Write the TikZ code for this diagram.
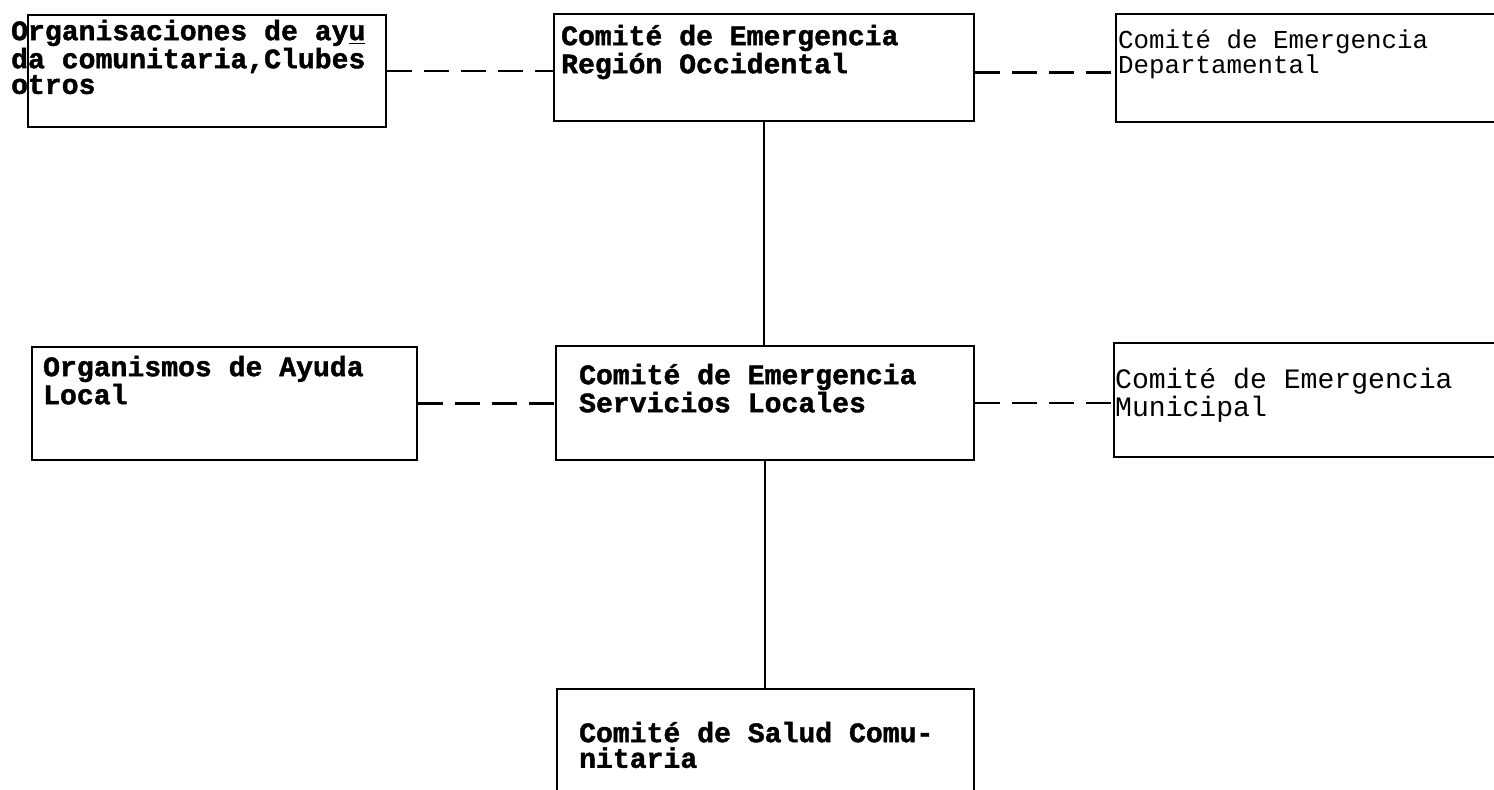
\documentclass[tikz,border=0pt]{standalone}
\usepackage{fontspec}
\newfontfamily\typefont{Liberation Mono}[BoldFeatures={FakeBold=1.5}]
\usetikzlibrary{positioning}
\tikzset{
  box/.style={rectangle, draw, line width=1.3pt, anchor=north west, align=left,
    inner ysep=0pt, font=\typefont\bfseries\fontsize{16pt}{14.6pt}\selectfont,
    execute at begin node={\spaceskip=0.6em\relax}},
  lightbox/.style={box, font=\typefont\mdseries\fontsize{16pt}{14.6pt}\selectfont},
  dashline/.style={line width=1.3pt, dash pattern=on 0.5cm off 0.24cm},
  solidline/.style={line width=1.3pt}
}
\begin{document}
\begin{tikzpicture}[x=0.02cm, y=-0.02cm]
\useasboundingbox (0,0) rectangle (1494,790);

% ---- fila superior ----
\node[box, inner xsep=-0.34cm, text width=7.84cm, text height=0.5cm, text depth=1.74cm]
  (ayuda) at (27,14) {Organisaciones de ay\underline{u}\\da comunitaria,Clubes\\otros};
\node[box, inner xsep=0.14cm, text width=8.12cm, text height=0.62cm, text depth=1.52cm]
  (region) at (553,13) {Comité de Emergencia\\Región Occidental};
\node[lightbox, font=\typefont\mdseries\fontsize{14.7pt}{14.6pt}\selectfont,
  inner xsep=0.04cm, text width=8.22cm, text height=0.68cm, text depth=1.48cm]
  (depto) at (1115,13) {Comité de Emergencia\\Departamental};

% ---- fila central ----
\node[box, inner xsep=0.22cm, text width=7.26cm, text height=0.58cm, text depth=1.68cm]
  (local) at (31,346) {Organismos de Ayuda\\Local};
\node[box, inner xsep=0.46cm, text width=7.44cm, text height=0.76cm, text depth=1.52cm]
  (servicios) at (555,345) {Comité de Emergencia\\Servicios Locales};
\node[lightbox, inner xsep=0.02cm, text width=8.3cm, text height=0.9cm, text depth=1.38cm]
  (municipal) at (1113,342) {Comité de Emergencia\\Municipal};

% ---- fila inferior ----
\node[box, inner xsep=0.44cm, text width=7.46cm, text height=1.06cm, text depth=1.58cm]
  (salud) at (556,688) {Comité de Salud Comu-\\nitaria};

% ---- conexiones ----
\draw[dashline] (ayuda.east) -- (ayuda.east -| region.west);
\draw[dashline] ([yshift=-0.1cm]region.east) -- ([yshift=-0.1cm]region.east -| depto.west);
\draw[solidline] (region.south) -- (region.south |- servicios.north);
\draw[dashline] (local.east) -- (local.east -| servicios.west);
\draw[dashline] (servicios.east) -- (servicios.east -| municipal.west);
\draw[solidline] (servicios.south) -- (servicios.south |- salud.north);

\end{tikzpicture}
\end{document}
